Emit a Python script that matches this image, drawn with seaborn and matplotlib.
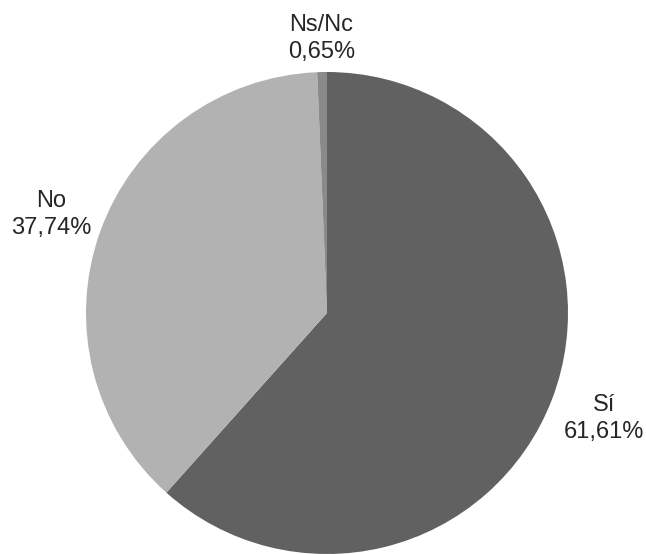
"""Tarta de respuestas Sí / No / Ns/Nc."""

import matplotlib

matplotlib.use("Agg")

import matplotlib.pyplot as plt
import numpy as np
import seaborn as sns

categorias = ["Sí", "No", "Ns/Nc"]
porcentajes = [61.61, 37.74, 0.65]
etiquetas_valor = ["61,61%", "37,74%", "0,65%"]
colores = ["#616161", "#b2b2b2", "#8a8a8a"]
distancias = [1.23, 1.215, 1.14]

sns.set_theme(style="white")
plt.rcParams["font.family"] = ["Liberation Sans", "DejaVu Sans"]

W, H = 646, 554
fig = plt.figure(figsize=(W / 100, H / 100), dpi=100)
cx, cy, r = 327, 313, 241
ax = fig.add_axes([(cx - r) / W, (H - cy - r) / H, 2 * r / W, 2 * r / H])

wedges, _ = ax.pie(
    porcentajes,
    colors=colores,
    startangle=90,
    counterclock=False,
    radius=1.0,
    wedgeprops={"linewidth": 0},
)

for wedge, cat, val, dist in zip(wedges, categorias, etiquetas_valor, distancias):
    ang = np.deg2rad((wedge.theta1 + wedge.theta2) / 2)
    ax.text(
        dist * np.cos(ang),
        dist * np.sin(ang),
        f"{cat}\n{val}",
        ha="center",
        va="center",
        fontsize=17,
        color="#262626",
        linespacing=1.3,
    )

ax.set_xlim(-1, 1)
ax.set_ylim(-1, 1)
ax.set_aspect("equal")
ax.axis("off")

fig.savefig("out.png", dpi=100)
plt.close(fig)
